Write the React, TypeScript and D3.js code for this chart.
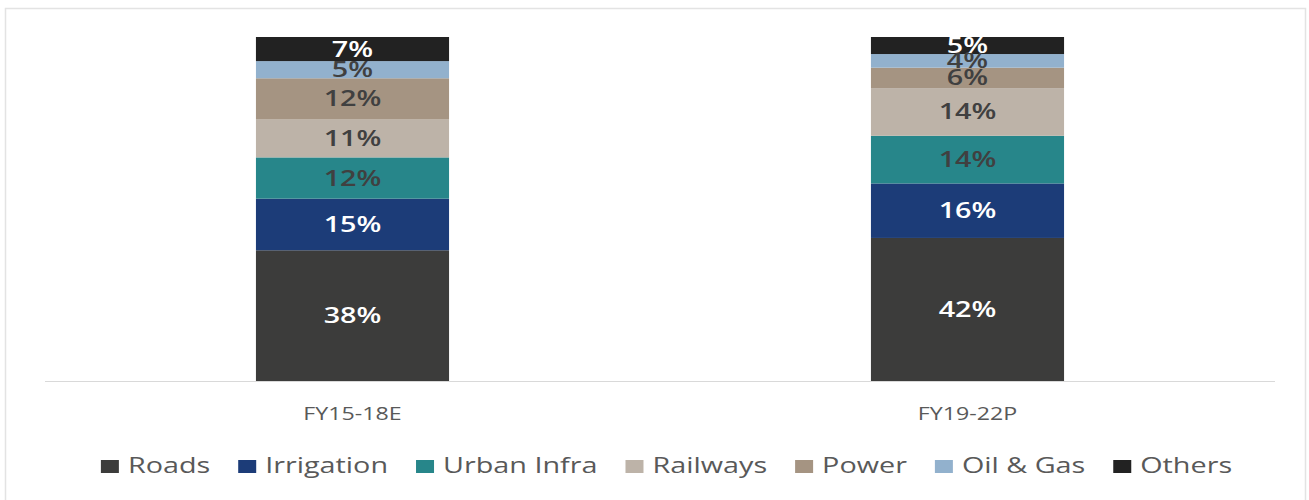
import React, { useEffect, useRef } from "react";
import * as d3 from "d3";

const categories = ["FY15-18E", "FY19-22P"];
const seriesNames = ["Roads", "Irrigation", "Urban Infra", "Railways", "Power", "Oil & Gas", "Others"];
const roads = [38, 42];
const irrigation = [15, 16];
const urbanInfra = [12, 14];
const railways = [11, 14];
const power = [12, 6];
const oilGas = [5, 4];
const others = [7, 5];
const seriesValues = [roads, irrigation, urbanInfra, railways, power, oilGas, others];

const colors = ["#3c3c3b", "#1c3c78", "#27868a", "#bdb3a8", "#a59482", "#92b1cd", "#222222"];
const labelColors = ["#ffffff", "#ffffff", "#404040", "#404040", "#404040", "#404040", "#ffffff"];

const W = 1309;
const H = 500;
const FONT = "'Open Sans', sans-serif";
const SX = 1.37; // horizontal stretch of the reference's text

export default function App() {
  const ref = useRef<SVGSVGElement | null>(null);

  useEffect(() => {
    const svg = d3.select(ref.current);
    svg.selectAll("*").remove();

    svg.append("rect").attr("x", 5.5).attr("y", 8.5).attr("width", W - 9).attr("height", H)
      .attr("fill", "#fff").attr("stroke", "#e3e3e3").attr("stroke-width", 1.5);

    const plotLeft = 45, plotRight = 1275, plotTop = 37, plotBottom = 381;

    const table = categories.map((c, i) => {
      const row: any = { cat: c };
      seriesNames.forEach((s, j) => (row[s] = seriesValues[j][i]));
      return row;
    });

    const stack = d3.stack<any>().keys(seriesNames).offset(d3.stackOffsetExpand);
    const layers = stack(table);

    const x = d3.scaleBand<string>().domain(categories).range([plotLeft, plotRight])
      .paddingInner(0.686).paddingOuter(0.343);
    const y = d3.scaleLinear().domain([0, 1]).range([plotBottom, plotTop]);

    layers.forEach((layer, j) => {
      svg.append("g").selectAll("rect").data(layer).enter().append("rect")
        .attr("x", (d: any) => x(d.data.cat)!)
        .attr("width", x.bandwidth())
        .attr("y", (d: any) => y(d[1]))
        .attr("height", (d: any) => y(d[0]) - y(d[1]))
        .attr("fill", colors[j]);
    });

    layers.forEach((layer, j) => {
      const g = svg.append("g").selectAll("g").data(layer).enter().append("g")
        .attr("transform", (d: any) =>
          `translate(${x(d.data.cat)! + x.bandwidth() / 2},${(y(d[0]) + y(d[1])) / 2})`);
      g.append("text")
        .attr("transform", `scale(${SX},1)`)
        .attr("dy", "0.36em")
        .attr("text-anchor", "middle")
        .attr("font-family", FONT)
        .attr("font-size", 21)
        .attr("font-weight", 600)
        .attr("fill", labelColors[j])
        .text((_d: any, i: number) => `${seriesValues[j][i]}%`);
    });

    svg.append("line").attr("x1", plotLeft).attr("x2", plotRight)
      .attr("y1", plotBottom + 0.5).attr("y2", plotBottom + 0.5)
      .attr("stroke", "#d9d9d9").attr("stroke-width", 1.2);

    const axis = d3.axisBottom(x).tickSize(0).tickPadding(0);
    const ag = svg.append("g").attr("transform", `translate(0,${plotBottom})`).call(axis);
    ag.select(".domain").remove();
    ag.selectAll("text").attr("font-family", FONT).attr("font-size", 18)
      .attr("fill", "#595959").attr("dy", "0").attr("y", 0)
      .attr("transform", `translate(0,39) scale(${SX * 0.94},1)`);

    // legend
    const legend = svg.append("g").attr("transform", "translate(0,473)");
    const items = legend.selectAll("g").data(seriesNames).enter().append("g");
    items.append("rect").attr("width", 18).attr("height", 13).attr("y", -13)
      .attr("fill", (_d, i) => colors[i]);
    const txt = items.append("g").attr("transform", `translate(27,0) scale(${SX},1)`);
    txt.append("text")
      .attr("font-family", FONT).attr("font-size", 21).attr("fill", "#595959")
      .text((d) => d);
    const widths: number[] = [];
    items.each(function () {
      const t = d3.select(this).select("text").node() as SVGTextElement;
      widths.push(27 + t.getComputedTextLength() * SX);
    });
    const gap = 28;
    const total = d3.sum(widths) + gap * (widths.length - 1);
    let cx = (W - total) / 2 + 12;
    items.attr("transform", (_d, i) => {
      const tx = cx;
      cx += widths[i] + gap;
      return `translate(${tx},0)`;
    });
  }, []);

  return (
    <svg ref={ref} width={W} height={H}
      style={{ position: "absolute", left: 0, top: 0, display: "block", background: "#fff" }} />
  );
}
